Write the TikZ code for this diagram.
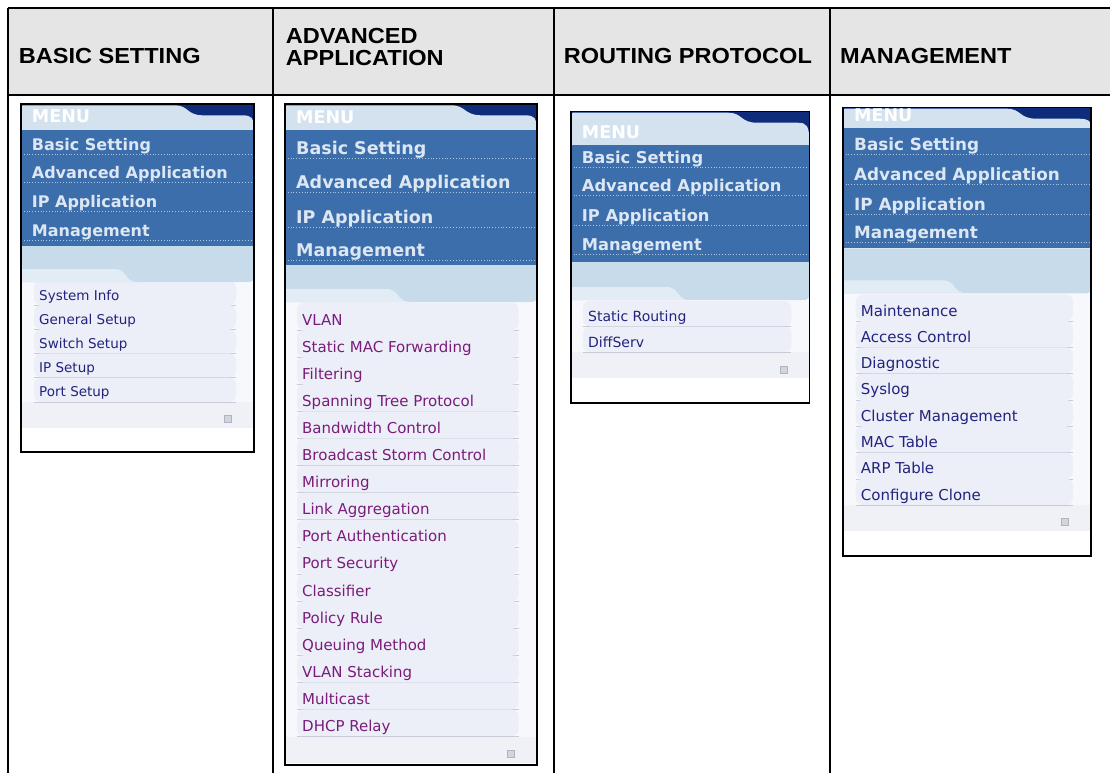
\documentclass[tikz,border=0pt]{standalone}
\usepackage{fontspec}
\setmainfont{Liberation Sans}
\newfontfamily\hdrf[FakeStretch=1.08]{Liberation Sans}
\newfontfamily\dvs{DejaVu Sans}
\definecolor{hdrgray}{HTML}{E5E5E5}
\definecolor{navy}{HTML}{0E2C7A}
\definecolor{hdrblue}{HTML}{D4E2EF}
\definecolor{bandblue}{HTML}{3C6EAB}
\definecolor{bandtext}{HTML}{DCE7F3}
\definecolor{bandline}{HTML}{A9C5E3}
\definecolor{lightarea}{HTML}{C8DBEA}
\definecolor{paletab}{HTML}{E2ECF5}
\definecolor{panel}{HTML}{F7F8FC}
\definecolor{rowfill}{HTML}{ECEFF8}
\definecolor{rowline}{HTML}{C6CBD7}
\definecolor{navytext}{HTML}{23237E}
\definecolor{purpletext}{HTML}{7A1C7A}
\definecolor{footer}{HTML}{EFF1F6}
\definecolor{sqfill}{HTML}{D2D5DE}
\definecolor{sqdraw}{HTML}{B0B4C0}
\tikzset{
  tableline/.style={line width=2pt, black},
  hdr/.style={font=\hdrf\bfseries\fontsize{21.8}{21.8}\selectfont, anchor=base west, inner sep=0pt},
  menutitle/.style={font=\dvs\bfseries\fontsize{17.5}{17.5}\selectfont, text=white, anchor=base west, inner sep=0pt},
  bandtxt/.style={text=bandtext, anchor=base west, inner sep=0pt},
  bandsep/.style={bandline, dotted, line width=0.8pt},
  itemtxt/.style={anchor=base west, inner sep=0pt},
  rowsep/.style={rowline, line width=0.6pt},
  sqbox/.style={draw=sqdraw, fill=sqfill, minimum size=7pt, inner sep=0pt, line width=0.5pt},
  menuframe/.style={draw=black, line width=1.6pt},
}
% geometry of current menu
\newcommand\setmenu[7]{\def\mnL{#1}\def\mnT{#2}\def\mnR{#3}\def\mnB{#4}\def\mnbt{#5}\def\mnbb{#6}\def\mnlb{#7}\pgfmathsetmacro\mnw{#3-#1}}
% items: base, spacing, textx, fontsize, colour, name, count, list
\newcommand\menuitems[8]{%
  \pgfmathsetmacro\lastl{#1+(#7-1)*#2+5}%
  \fill[white] (\mnL,\mnT) rectangle (\mnR,\mnB);
  \fill[panel] (\mnL,\mnlb) rectangle (\mnR,\lastl);
  \fill[footer] (\mnL,\lastl) rectangle (\mnR,{\lastl+26});
  \foreach \txt [count=\i from 0] in {#8} {
    \pgfmathsetmacro\yy{#1+\i*#2}
    \pgfmathsetmacro\ytop{\yy+5-#2}
    \fill[rowfill, rounded corners=7pt] ({#3-5},\ytop) rectangle ({\mnR-18},{\yy+5});
    \draw[rowsep] ({#3-5},{\yy+5}) -- ({\mnR-18},{\yy+5});
    \node[itemtxt, text=#5, font=\dvs\fontsize{#4}{#4}\selectfont] (#6\i) at (#3,\yy) {\txt};
  }
  \node[sqbox] (#6sq) at ({\mnR-26},{\lastl+17}) {};
}
\newcommand\menuchrome{%
  \fill[lightarea] (\mnL,\mnbb) -- (\mnR,\mnbb) -- (\mnR,{\mnlb-9}) .. controls (\mnR,\mnlb) .. ({\mnR-9},\mnlb) -- (\mnL,\mnlb) -- cycle;
  \fill[paletab] (\mnL,\mnlb) -- (\mnL,{\mnlb-13}) -- ({\mnL+0.40*\mnw},{\mnlb-13}) .. controls ({\mnL+0.46*\mnw},{\mnlb-13}) and ({\mnL+0.44*\mnw},\mnlb) .. ({\mnL+0.50*\mnw},\mnlb) -- cycle;
  \fill[navy] (\mnL,\mnT) rectangle (\mnR,\mnbt);
  \fill[hdrblue] (\mnL,\mnbt) -- (\mnL,{\mnT+5}) .. controls (\mnL,{\mnT+1}) .. ({\mnL+4},{\mnT+1})
     -- ({\mnL+0.66*\mnw},{\mnT+1}) .. controls ({\mnL+0.72*\mnw},{\mnT+1}) and ({\mnL+0.71*\mnw},{\mnT+11}) .. ({\mnL+0.78*\mnw},{\mnT+11})
     -- ({\mnR-12},{\mnT+11}) .. controls ({\mnR-2},{\mnT+11}) and (\mnR,{\mnT+14}) .. (\mnR,{\mnbt-2}) -- (\mnR,\mnbt) -- cycle;
  \fill[bandblue] (\mnL,\mnbt) rectangle (\mnR,\mnbb);
}
% band: fontsize, textx, name, menu-title baseline, list y/txt
\newcommand\menuband[5]{%
  \node[menutitle] (#3t) at (#2,#4) {MENU};
  \foreach \yy/\txt [count=\i] in {#5} {
    \draw[bandsep] (\mnL,{\yy+4}) -- (\mnR,{\yy+4});
    \node[bandtxt, font=\dvs\bfseries\fontsize{#1}{#1}\selectfont] (#3b\i) at (#2,\yy) {\txt};
  }
  \draw[menuframe] (\mnL,\mnT) rectangle (\mnR,\mnB);
}
\begin{document}
\begin{tikzpicture}[x=1pt,y=-1pt]
\useasboundingbox (0,0) rectangle (1110,773);
\fill[white] (0,0) rectangle (1110,773);
% table
\fill[hdrgray] (8,8) rectangle (1110,94.6);
\draw[tableline] (8,8) -- (1110,8);
\draw[tableline] (8,94.6) -- (1110,94.6);
\foreach \xx in {8,273,554,830} \draw[tableline] (\xx,8) -- (\xx,773);
\node[hdr] (h1) at (18.6,63.6) {BASIC SETTING};
\node[hdr] (h2a) at (285.7,43.6) {ADVANCED};
\node[hdr] (h2b) at (285.7,65.5) {APPLICATION};
\node[hdr] (h3) at (563.6,63.6) {ROUTING PROTOCOL};
\node[hdr] (h4) at (840,63.6) {MANAGEMENT};
% menu 1
\setmenu{21}{104.3}{254}{452}{130}{245.7}{282}
\menuitems{300}{24.2}{39}{13.5}{navytext}{ma}{5}{System Info,General Setup,Switch Setup,IP Setup,Port Setup}
\menuchrome
\menuband{16}{31.7}{mab}{123}{150/Basic Setting,178/Advanced Application,207.7/IP Application,236.7/Management}
% menu 2
\setmenu{285}{104.3}{536.7}{765}{130}{265}{302}
\menuitems{325}{27.1}{302}{15}{purpletext}{mb}{16}{VLAN,Static MAC Forwarding,Filtering,Spanning Tree Protocol,Bandwidth Control,Broadcast Storm Control,Mirroring,Link Aggregation,Port Authentication,Port Security,Classifier,Policy Rule,Queuing Method,VLAN Stacking,Multicast,DHCP Relay}
\menuchrome
\menuband{17.5}{296}{mbb}{123.3}{154.3/Basic Setting,188.3/Advanced Application,223.3/IP Application,256.7/Management}
% menu 3
\setmenu{570.7}{111.7}{809.3}{402.7}{145}{261.7}{300}
\menuitems{321.7}{25.6}{588}{14}{navytext}{mc}{2}{Static Routing,DiffServ}
\menuchrome
\menuband{16.3}{581.7}{mcb}{138.3}{163.3/Basic Setting,191.7/Advanced Application,221.7/IP Application,250/Management}
% menu 4
\setmenu{842.7}{107.7}{1091}{556}{128.3}{248.3}{293.3}
\menuitems{316}{26.3}{860.7}{15}{navytext}{md}{8}{Maintenance,Access Control,Diagnostic,Syslog,Cluster Management,MAC Table,ARP Table,Configure Clone}
\menuchrome
\menuband{16.8}{854}{mdb}{121.7}{150/Basic Setting,180/Advanced Application,210/IP Application,238.3/Management}
\end{tikzpicture}
\end{document}
